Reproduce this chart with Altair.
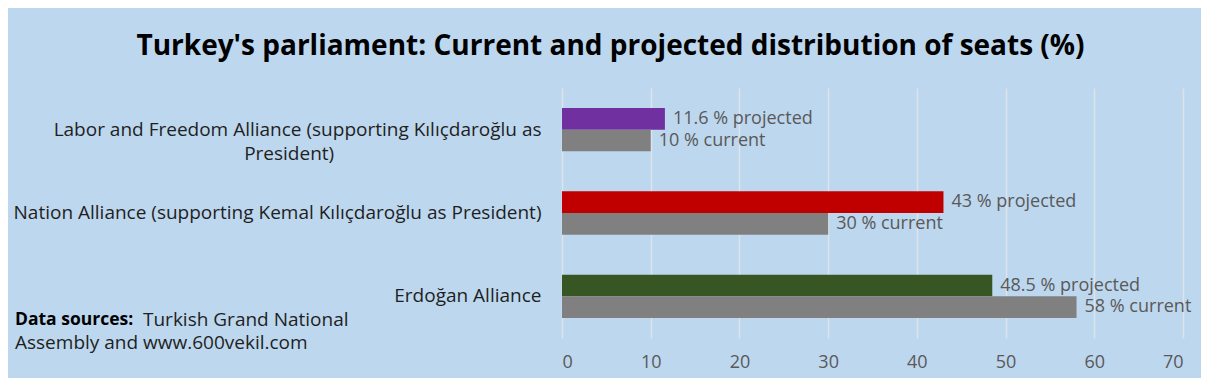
import altair as alt
import pandas as pd

alliances = [
    "Labor and Freedom Alliance (supporting Kılıçdaroğlu as President)",
    "Nation Alliance (supporting Kemal Kılıçdaroğlu as President)",
    "Erdoğan Alliance",
]
projected = [11.6, 43, 48.5]
current = [10, 30, 58]
series = ["projected", "current"]
proj_colors = ["#7030A0", "#C00000", "#375623"]
current_color = "#808080"
x_ticks = [0, 10, 20, 30, 40, 50, 60, 70]
source_bold = "Data sources:"
source_rest = ["Turkish Grand National", "Assembly and www.600vekil.com"]
title_text = "Turkey's parliament: Current and projected distribution of seats (%)"

rows = []
for a, p, c, col in zip(alliances, projected, current, proj_colors):
    rows.append(dict(alliance=a, series="projected", value=p, color=col, label=f"{p:g} % projected"))
    rows.append(dict(alliance=a, series="current", value=c, color=current_color, label=f"{c:g} % current"))
df = pd.DataFrame(rows)

FONT = "Open Sans"
pad = "\u00a0" * 42 + "\u200b"
label_expr = (
    f"datum.value == '{alliances[0]}' ? "
    f"['Labor and Freedom Alliance (supporting Kılıçdaroğlu as', 'President){pad}'] : datum.label"
)

y_enc = alt.Y(
    "alliance:N",
    sort=alliances,
    title=None,
    scale=alt.Scale(paddingInner=0.48, paddingOuter=0.24),
    axis=alt.Axis(
        labelExpr=label_expr,
        labelFont=FONT,
        labelFontSize=19,
        labelColor="#1F1F1F",
        labelPadding=21,
        labelLineHeight=24,
        labelLimit=600,
        ticks=False,
        domain=False,
        grid=False,
    ),
)
yoff = alt.YOffset("series:N", sort=series, scale=alt.Scale(paddingInner=0, paddingOuter=0))
x_enc = alt.X(
    "value:Q",
    scale=alt.Scale(domain=[0, 70], nice=False),
    title=None,
    axis=alt.Axis(
        values=x_ticks,
        labelFont=FONT,
        labelFontSize=18,
        labelColor="#595959",
        labelPadding=15,
        ticks=False,
        domain=False,
        grid=True,
        gridColor="#DCE3EA",
        gridWidth=1.5,
    ),
)

bars = alt.Chart(df).mark_bar(stroke=None).encode(
    x=x_enc, y=y_enc, yOffset=yoff, color=alt.Color("color:N", scale=None)
)
labels = alt.Chart(df).mark_text(
    align="left", baseline="middle", dx=8, font=FONT, fontSize=18, color="#595959"
).encode(x="value:Q", y=alt.Y("alliance:N", sort=alliances), yOffset=yoff, text="label:N")

src1 = alt.Chart(pd.DataFrame({"t": [source_bold]})).mark_text(
    align="left", baseline="middle", font=FONT, fontSize=17.5, fontWeight="bold", color="#000000"
).encode(x=alt.value(-547), y=alt.value(232), text="t:N")
src2 = alt.Chart(pd.DataFrame({"t": [source_rest[0]]})).mark_text(
    align="left", baseline="middle", font=FONT, fontSize=19, color="#1F1F1F"
).encode(x=alt.value(-419), y=alt.value(232), text="t:N")
src3 = alt.Chart(pd.DataFrame({"t": [source_rest[1]]})).mark_text(
    align="left", baseline="middle", font=FONT, fontSize=19, color="#1F1F1F"
).encode(x=alt.value(-547), y=alt.value(255), text="t:N")

chart = (
    alt.layer(bars, labels, src1, src2, src3)
    .properties(
        width=621,
        height=250,
        title=alt.TitleParams(
            title_text, font=FONT, fontSize=28, fontWeight="bold", color="#000000",
            anchor="middle", dx=-262, offset=27,
        ),
        autosize=alt.AutoSizeParams(type="none"),
        padding={"left": 554, "top": 80, "right": 18, "bottom": 40},
        background="#BDD7EE",
    )
    .configure_view(stroke=None)
)

chart.save("out.html", embed_options={"renderer": "svg", "actions": False})
